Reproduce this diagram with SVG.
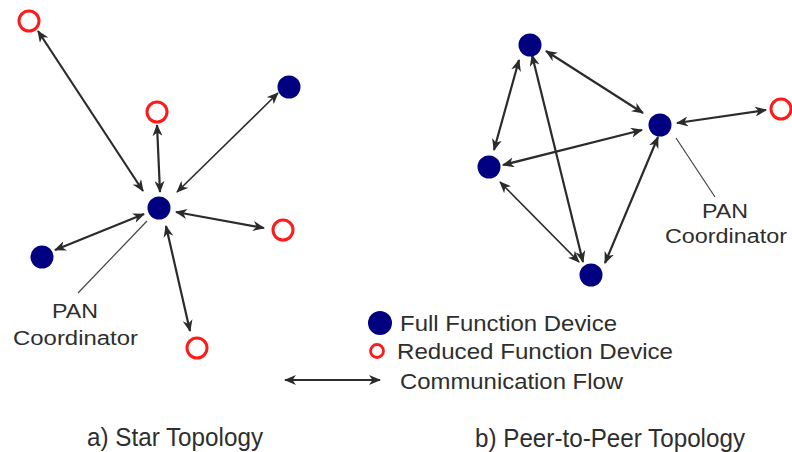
<svg xmlns="http://www.w3.org/2000/svg" width="792" height="452" viewBox="0 0 792 452">
  <defs>
    <marker id="head" viewBox="0 0 12 10" refX="11" refY="5" markerWidth="12" markerHeight="10" markerUnits="userSpaceOnUse" orient="auto-start-reverse">
      <path d="M0,0 L12,5 L0,10 L3.5,5 z" fill="#2b2b2b"/>
    </marker>
  </defs>
  <style>
    .ffd { fill: #000080; }
    .rfd { fill: #ffffff; stroke: #ff1a1a; stroke-width: 3; }
    .flow { stroke: #2b2b2b; stroke-width: 2.2; fill: none; marker-start: url(#head); marker-end: url(#head); }
    .thin { stroke-width: 1.6; }
    .lead { stroke: #444; stroke-width: 1.2; fill: none; }
    text { font-family: "Liberation Sans", Arial, sans-serif; fill: #2e2e2e; }
    .lbl { font-size: 20px; }
    .leg { font-size: 22px; }
    .cap { font-size: 25px; }
  </style>
  <rect width="792" height="452" fill="#ffffff"/>

  <!-- communication links -->
  <g id="connectors">
    <!-- star topology -->
    <line class="flow" x1="38" y1="31" x2="143" y2="191"/>
    <line class="flow" x1="157" y1="125" x2="160" y2="192"/>
    <line class="flow thin" x1="278" y1="93" x2="177" y2="192"/>
    <line class="flow" x1="176" y1="212" x2="264" y2="228"/>
    <line class="flow" x1="55" y1="250" x2="144" y2="214"/>
    <line class="flow" x1="166" y1="226" x2="190" y2="331"/>
    <!-- peer-to-peer topology -->
    <line class="flow" x1="546" y1="51" x2="643" y2="113"/>
    <line class="flow" x1="519" y1="60" x2="494" y2="150"/>
    <line class="flow" x1="532" y1="55" x2="583" y2="262"/>
    <line class="flow" x1="642" y1="130" x2="503" y2="165"/>
    <line class="flow thin" x1="500" y1="182" x2="579" y2="262"/>
    <line class="flow" x1="658" y1="137" x2="605" y2="263"/>
    <line class="flow" x1="677" y1="123" x2="766" y2="110"/>
    <!-- legend sample -->
    <line class="flow" x1="285" y1="380" x2="380" y2="380"/>
    <!-- coordinator leaders -->
    <line class="lead" x1="147" y1="221" x2="78" y2="293"/>
    <line class="lead" x1="676" y1="138" x2="715" y2="197"/>
  </g>

  <!-- star topology devices -->
  <g id="star-coordinator"><circle class="ffd" cx="159" cy="208" r="11.5"/></g>
  <g id="star-rfd-far"><circle class="rfd" cx="29" cy="21" r="10"/></g>
  <g id="star-rfd-top"><circle class="rfd" cx="157" cy="112" r="10"/></g>
  <g id="star-ffd-right"><circle class="ffd" cx="289" cy="87" r="11.5"/></g>
  <g id="star-rfd-right"><circle class="rfd" cx="283" cy="230" r="10"/></g>
  <g id="star-ffd-left"><circle class="ffd" cx="42" cy="257" r="11.5"/></g>
  <g id="star-rfd-bottom"><circle class="rfd" cx="197" cy="348" r="10"/></g>
  <g id="star-label">
    <text class="lbl" x="52" y="318" textLength="46" lengthAdjust="spacingAndGlyphs">PAN</text>
    <text class="lbl" x="13" y="345" textLength="125" lengthAdjust="spacingAndGlyphs">Coordinator</text>
  </g>

  <!-- peer-to-peer devices -->
  <g id="p2p-ffd-top"><circle class="ffd" cx="530" cy="45" r="11.5"/></g>
  <g id="p2p-ffd-left"><circle class="ffd" cx="489" cy="167" r="11.5"/></g>
  <g id="p2p-coordinator"><circle class="ffd" cx="660" cy="125" r="11.5"/></g>
  <g id="p2p-ffd-bottom"><circle class="ffd" cx="591" cy="275" r="11.5"/></g>
  <g id="p2p-rfd"><circle class="rfd" cx="781" cy="109" r="10"/></g>
  <g id="p2p-label">
    <text class="lbl" x="702" y="218" textLength="46" lengthAdjust="spacingAndGlyphs">PAN</text>
    <text class="lbl" x="665" y="243" textLength="122" lengthAdjust="spacingAndGlyphs">Coordinator</text>
  </g>

  <!-- legend -->
  <g id="legend">
    <circle class="ffd" cx="380" cy="323" r="12"/>
    <text class="leg" x="400" y="331" textLength="217" lengthAdjust="spacingAndGlyphs">Full Function Device</text>
    <circle cx="377" cy="351" r="6.5" fill="#ffffff" stroke="#ff1a1a" stroke-width="2.8"/>
    <text class="leg" x="397" y="359" textLength="276" lengthAdjust="spacingAndGlyphs">Reduced Function Device</text>
    <text class="leg" x="400" y="389" textLength="223" lengthAdjust="spacingAndGlyphs">Communication Flow</text>
  </g>

  <!-- captions -->
  <g id="captions">
    <text class="cap" x="87" y="446" textLength="176" lengthAdjust="spacingAndGlyphs">a) Star Topology</text>
    <text class="cap" x="475" y="447" textLength="270" lengthAdjust="spacingAndGlyphs">b) Peer-to-Peer Topology</text>
  </g>
</svg>
